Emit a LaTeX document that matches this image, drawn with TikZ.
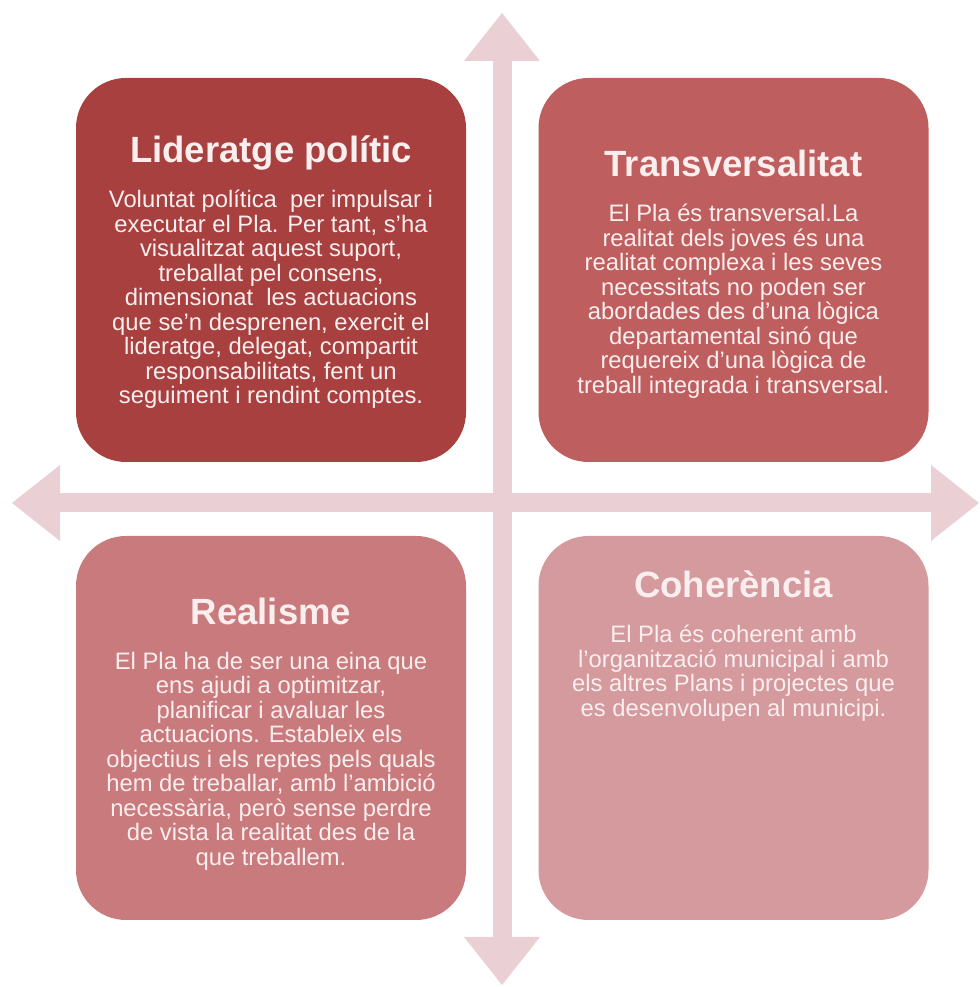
\documentclass[tikz,border=0pt]{standalone}
\usepackage{fontspec}
\setmainfont{Liberation Sans}
\usetikzlibrary{arrows.meta,positioning}
\definecolor{axispink}{RGB}{234,208,212}
\definecolor{cardred}{RGB}{168,64,63}
\definecolor{cardrose}{RGB}{190,94,94}
\definecolor{cardpink}{RGB}{201,122,125}
\definecolor{cardblush}{RGB}{212,154,157}
\definecolor{cardtext}{RGB}{250,238,238}

\begin{document}
\begin{tikzpicture}[
  card/.style={rectangle, rounded corners=50pt, minimum width=390pt, minimum height=384pt, inner sep=0pt},
  heading/.style={font=\fontsize{36.5}{40}\selectfont\bfseries, text=cardtext, inner sep=0pt, text depth=8pt, anchor=base},
  body/.style={font=\fontsize{23.8}{24.5}\selectfont, text=cardtext, align=center, inner sep=0pt},
  axis/.style={{Triangle[width=76pt, length=48pt, line width=0pt]}-{Triangle[width=76pt, length=48pt, line width=0pt]}, line width=19pt, draw=axispink}
]
\useasboundingbox (0,0) rectangle (979pt,987pt);

% axes
\coordinate (axS) at (502pt,2pt);
\coordinate (axN) at (502pt,974pt);
\coordinate (axW) at (12pt,484pt);
\coordinate (axE) at (979pt,484pt);
\draw[axis] (axS) -- (axN);
\draw[axis] (axW) -- (axE);

% cards
\node[card, fill=cardred] (lid) at (271pt,717pt) {};
\node[card, fill=cardrose] (tra) at (733.5pt,717pt) {};
\node[card, fill=cardpink] (rea) at (271pt,259pt) {};
\node[card, fill=cardblush] (coh) at (733.5pt,259pt) {};

\node[heading] (lidT) at ([yshift=-85pt]lid.north) {Lideratge polític};
\node[body, below=19pt of lidT] (lidB) {Voluntat política\ \ per impulsar i\\
executar el Pla. Per tant, s'ha\\
visualitzat aquest suport,\\
treballat pel consens,\\
dimensionat\ \ les actuacions\\
que se'n desprenen, exercit el\\
lideratge, delegat, compartit\\
responsabilitats, fent un\\
seguiment i rendint comptes.};

\node[heading] (traT) at ([yshift=-99pt]tra.north) {Transversalitat};
\node[body, below=19pt of traT] (traB) {El Pla és transversal.La\\
realitat dels joves és una\\
realitat complexa i les seves\\
necessitats no poden ser\\
abordades des d'una lògica\\
departamental sinó que\\
requereix d'una lògica de\\
treball integrada i transversal.};

\node[heading] (reaT) at ([yshift=-89pt]rea.north) {Realisme};
\node[body, below=19pt of reaT] (reaB) {El Pla ha de ser una eina que\\
ens ajudi a optimitzar,\\
planificar i avaluar les\\
actuacions. Estableix els\\
objectius i els reptes pels quals\\
hem de treballar, amb l'ambició\\
necessària, però sense perdre\\
de vista la realitat des de la\\
que treballem.};

\node[heading] (cohT) at ([yshift=-62pt]coh.north) {Coherència};
\node[body, below=19pt of cohT] (cohB) {El Pla és coherent amb\\
l'organització municipal i amb\\
els altres Plans i projectes que\\
es desenvolupen al municipi.};
\end{tikzpicture}
\end{document}
